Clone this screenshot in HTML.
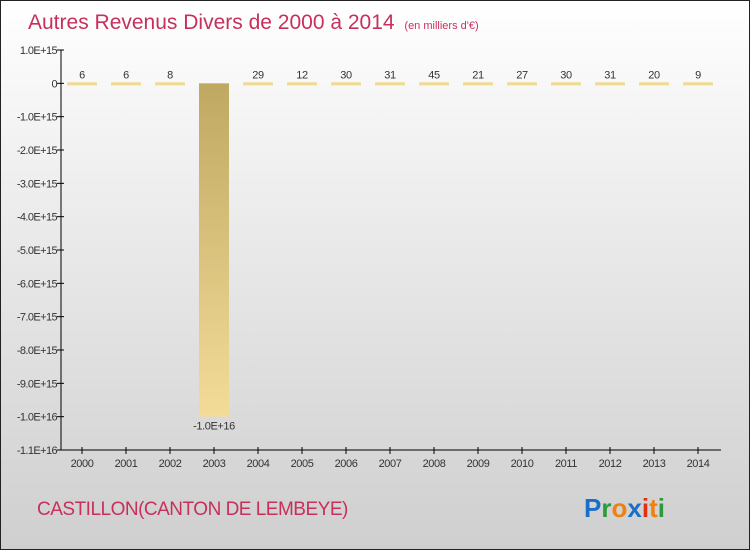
<!DOCTYPE html>
<html><head><meta charset="utf-8"><style>
body{margin:0;width:750px;height:550px;overflow:hidden;font-family:"Liberation Sans",sans-serif}
#wrap{position:absolute;left:0;top:0;width:748px;height:548px;border:1px solid #222;background:linear-gradient(#ffffff,#ebebeb 40%,#cfcfcf)}
</style></head><body>
<div id="wrap">
<svg id="chart" width="748" height="548" style="position:absolute;left:0;top:0"></svg>
</div>
<script>
const years=["2000","2001","2002","2003","2004","2005","2006","2007","2008","2009","2010","2011","2012","2013","2014"];
const values=[6,6,8,-1e16,29,12,30,31,45,21,27,30,31,20,9];
const valueLabels=["6","6","8","-1.0E+16","29","12","30","31","45","21","27","30","31","20","9"];
const tickValues=[1e15,0,-1e15,-2e15,-3e15,-4e15,-5e15,-6e15,-7e15,-8e15,-9e15,-1e16,-1.1e16];
const tickLabels=["1.0E+15","0","-1.0E+15","-2.0E+15","-3.0E+15","-4.0E+15","-5.0E+15","-6.0E+15","-7.0E+15","-8.0E+15","-9.0E+15","-1.0E+16","-1.1E+16"];
const NS="http://www.w3.org/2000/svg";
const svg=document.getElementById('chart');
const yMax=1e15,yMin=-1.1e16,plotTop=49,plotBot=449;
function y(v){return plotTop+(yMax-v)/(yMax-yMin)*(plotBot-plotTop);}
function x(i){return 81+i*44;}
function mk(tag,attrs,txt){const e=document.createElementNS(NS,tag);for(const k in attrs)e.setAttribute(k,attrs[k]);if(txt!==undefined)e.textContent=txt;svg.appendChild(e);return e;}
const defs=mk('defs',{});
defs.innerHTML='<linearGradient id="bg" x1="0" y1="0" x2="0" y2="1"><stop offset="0" stop-color="#bfa862"/><stop offset="1" stop-color="#f2dc97"/></linearGradient>';
let t=mk('text',{x:27,y:28,fill:'#c8305c','font-size':21});


t.innerHTML='Autres Revenus Divers de 2000 à 2014 <tspan font-size="11" dx="4">(en milliers d\'€)</tspan>';
let a=mk('line',{x1:60,y1:plotTop,x2:60,y2:plotBot,stroke:'#000'});


a=mk('line',{x1:60,y1:plotBot,x2:720,y2:plotBot,stroke:'#000'});


tickValues.forEach((v,i)=>{
  const ty=y(v);
  mk('line',{x1:56,y1:ty,x2:63,y2:ty,stroke:'#000'});
  const l=mk('text',{x:56,y:ty+4,'text-anchor':'end','font-size':11,fill:'#333','letter-spacing':'-0.6'},tickLabels[i]);
  
  
});
years.forEach((yr,i)=>{
  const cx=x(i);
  mk('line',{x1:cx,y1:plotBot-3,x2:cx,y2:plotBot+4,stroke:'#000'});
  const l=mk('text',{x:cx,y:plotBot+17,'text-anchor':'middle','font-size':11,fill:'#333','letter-spacing':'-0.4'},yr);
  
  
  const v=values[i];
  const y0=y(0),y1=y(v);
  const h=Math.abs(y1-y0);
  let b;
  if(h<3){b=mk('rect',{x:cx-15,y:y0-1,width:30,height:3,fill:'#f0da90'});}
  else{b=mk('rect',{x:cx-15,y:Math.min(y0,y1),width:30,height:h,fill:'url(#bg)'});}
  
  
  const ly=v<0&&h>=3?y1+13:Math.min(y0,y1)-5;
  const vl=mk('text',{x:cx,y:ly,'text-anchor':'middle','font-size':11,fill:'#333','letter-spacing':'-0.4'},valueLabels[i]);
  
  
});
t=mk('text',{x:36,y:514,fill:'#c8305c','font-size':19,'letter-spacing':'-0.5'},'CASTILLON(CANTON DE LEMBEYE)');


const logo=mk('text',{x:583,y:516,'font-size':26,'font-weight':'bold'});


logo.innerHTML='<tspan fill="#1a6fc8">P</tspan><tspan fill="#2a9a3a">r</tspan><tspan fill="#f08010">o</tspan><tspan fill="#1a6fc8">x</tspan><tspan fill="#e03010">i</tspan><tspan fill="#f08010">t</tspan><tspan fill="#2a9a3a">i</tspan>';
</script>
</body></html>
